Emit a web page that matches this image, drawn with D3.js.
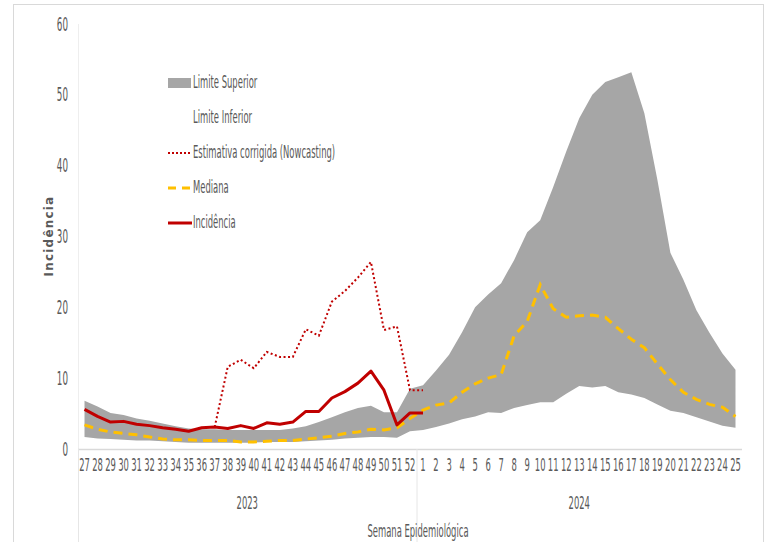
<!DOCTYPE html>
<html>
<head>
<meta charset="utf-8">
<script src="https://cdn.jsdelivr.net/npm/d3@7"></script>
<style>
  body { margin: 0; background: #fff; }
  svg text { font-family: "DejaVu Sans Condensed", "Liberation Sans Narrow", sans-serif; fill: #595959; }
</style>
</head>
<body>
<div id="chart"></div>
<script>

// data //

const weeks = ["27","28","29","30","31","32","33","34","35","36","37","38","39","40","41","42","43","44","45","46","47","48","49","50","51","52",
  "1","2","3","4","5","6","7","8","9","10","11","12","13","14","15","16","17","18","19","20","21","22","23","24","25"];

const years = ["2023", "2024"];
const yTicks = [0, 10, 20, 30, 40, 50, 60];

const limiteInferior = [1.7,1.5,1.4,1.3,1.2,1.2,1.1,1.0,0.9,0.9,0.9,0.9,0.9,0.9,1.0,1.0,1.0,1.1,1.2,1.3,1.5,1.6,1.7,1.7,1.6,2.5,
  2.7,3.1,3.6,4.2,4.6,5.2,5.1,5.8,6.2,6.6,6.6,7.8,8.9,8.7,8.9,8.0,7.7,7.2,6.3,5.4,5.1,4.5,3.9,3.3,3.0];

const limiteSuperior = [6.8,6.0,5.1,4.8,4.3,4.0,3.6,3.2,2.9,2.8,2.8,2.7,2.7,2.7,2.7,2.7,2.9,3.2,3.8,4.5,5.2,5.8,6.1,5.2,5.2,8.5,
  9.0,11.1,13.3,16.5,20.0,21.8,23.4,26.7,30.6,32.3,37.0,42.0,46.7,50.0,51.8,52.5,53.2,47.4,38.0,27.7,23.9,19.6,16.4,13.5,11.2];

const mediana = [3.4,2.8,2.4,2.2,2.0,1.7,1.4,1.3,1.3,1.2,1.2,1.2,1.0,1.0,1.1,1.2,1.2,1.4,1.6,1.8,2.2,2.4,2.8,2.7,3.0,4.3,
  5.5,6.2,6.5,8.0,9.2,10.0,10.5,16.0,18.0,23.2,19.8,18.6,18.8,18.9,18.6,17.0,15.5,14.3,12.0,9.8,8.0,7.0,6.3,5.9,4.6];

const incidencia = [5.6,4.6,3.8,3.9,3.5,3.3,3.0,2.8,2.5,3.0,3.1,2.9,3.3,2.9,3.7,3.5,3.8,5.3,5.3,7.2,8.1,9.3,11.0,8.3,3.4,5.1,
  5.1];

const estimativa = [null,null,null,null,null,null,null,null,null,null,3.1,11.6,12.6,11.4,13.7,13.0,13.0,16.9,16.0,20.8,22.3,24.2,26.4,16.8,17.3,8.3,
  8.3];

// chart //

const W = 766, H = 542;
const pLeft = 78, pRight = 742, pTop = 24, pBottom = 449;
const red = "#c00000", yellow = "#ffc000", grey = "#a6a6a6", axisGrey = "#d9d9d9";
const sx = 0.78, sy = 1.5; // text in the picture is tall and narrow

const svg = d3.select("#chart")
  .append("svg")
    .attr("width", W)
    .attr("height", H);

// outer frame
svg.append("rect")
  .attr("x", 13.5).attr("y", 4.5)
  .attr("width", 750).attr("height", 560)
  .attr("fill", "none")
  .attr("stroke", axisGrey);

const x = d3.scaleBand()
  .domain(d3.range(weeks.length))
  .range([pLeft, pRight])
  .padding(0);

const y = d3.scaleLinear()
  .domain([0, 60])
  .range([pBottom, pTop]);

const cx = i => x(i) + x.bandwidth() / 2;

// tall narrow text helper
function label(g, tx, ty, str, anchor, size) {
  return g.append("text")
    .attr("transform", `translate(${tx},${ty}) scale(${sx},${sy})`)
    .attr("text-anchor", anchor || "middle")
    .style("font-size", (size || 12) + "px")
    .text(str);
}

// y axis line
svg.append("line")
  .attr("x1", pLeft + 0.5).attr("x2", pLeft + 0.5)
  .attr("y1", pTop).attr("y2", pBottom)
  .attr("stroke", "#eeeeee");

// band between limits
const band = d3.area()
  .x((d, i) => cx(i))
  .y0((d, i) => y(limiteInferior[i]))
  .y1(d => y(d));

svg.append("path")
  .datum(limiteSuperior)
  .attr("fill", grey)
  .attr("d", band);

// lines
const line = d3.line()
  .defined(d => d !== null)
  .x((d, i) => cx(i))
  .y(d => y(d));

svg.append("path")
  .datum(mediana)
  .attr("fill", "none")
  .attr("stroke", yellow)
  .attr("stroke-width", 3)
  .attr("stroke-dasharray", "9,6")
  .attr("d", line);

svg.append("path")
  .datum(estimativa)
  .attr("fill", "none")
  .attr("stroke", red)
  .attr("stroke-width", 2)
  .attr("stroke-dasharray", "2,2.5")
  .attr("d", line);

svg.append("path")
  .datum(incidencia)
  .attr("fill", "none")
  .attr("stroke", red)
  .attr("stroke-width", 3)
  .attr("stroke-linejoin", "round")
  .attr("d", line);

// x axis
svg.append("line")
  .attr("x1", pLeft).attr("x2", pRight)
  .attr("y1", pBottom + 0.5).attr("y2", pBottom + 0.5)
  .attr("stroke", axisGrey)
  .attr("stroke-width", 1.5);

const split = x(26);
[pLeft, split].forEach(v => {
  svg.append("line")
    .attr("x1", v + 0.5).attr("x2", v + 0.5)
    .attr("y1", pBottom).attr("y2", 542)
    .attr("stroke", "#e6e6e6");
});

const xAxis = svg.append("g")
  .attr("transform", `translate(0,${pBottom})`)
  .call(d3.axisBottom(x).tickSize(0).tickFormat(i => weeks[i]));
xAxis.select(".domain").remove();
xAxis.selectAll(".tick text").remove();
xAxis.selectAll(".tick").each(function (i) {
  label(d3.select(this), 0, 22, weeks[i]);
});

// years
label(svg, (pLeft + split) / 2, 509, years[0]);
label(svg, (split + pRight) / 2, 509, years[1]);

// y ticks
const yAxis = svg.append("g")
  .attr("transform", `translate(${pLeft},0)`)
  .call(d3.axisLeft(y).tickValues(yTicks).tickSize(0));
yAxis.select(".domain").remove();
yAxis.selectAll(".tick text").remove();
yAxis.selectAll(".tick").each(function (d) {
  label(d3.select(this), -10, 6, d, "end", 12.5);
});

// axis titles
label(svg, 418, 537, "Semana Epidemiológica");

svg.append("text")
  .attr("transform", "translate(53,236) rotate(-90)")
  .attr("text-anchor", "middle")
  .style("font-family", "DejaVu Sans, sans-serif")
  .style("font-weight", "bold")
  .style("font-size", "12px")
  .style("letter-spacing", "1.2px")
  .text("Incidência");

// legend
const legend = [
  { name: "Limite Superior", type: "area", color: grey },
  { name: "Limite Inferior", type: "area", color: "#ffffff" },
  { name: "Estimativa corrigida (Nowcasting)", type: "dot", color: red },
  { name: "Mediana", type: "dash", color: yellow },
  { name: "Incidência", type: "solid", color: red }
];

const lg = svg.append("g");
legend.forEach((d, i) => {
  const ly = 83 + i * 35;
  if (d.type === "area") {
    lg.append("rect")
      .attr("x", 168).attr("y", ly - 5)
      .attr("width", 23).attr("height", 10)
      .attr("fill", d.color);
  } else {
    lg.append("line")
      .attr("x1", 168).attr("x2", 192)
      .attr("y1", ly).attr("y2", ly)
      .attr("stroke", d.color)
      .attr("stroke-width", d.type === "dot" ? 2 : 3)
      .attr("stroke-dasharray", d.type === "dot" ? "2,2" : d.type === "dash" ? "8,6" : null);
  }
  label(lg, 193, ly + 5, d.name, "start", 12);
});

</script>
</body>
</html>
